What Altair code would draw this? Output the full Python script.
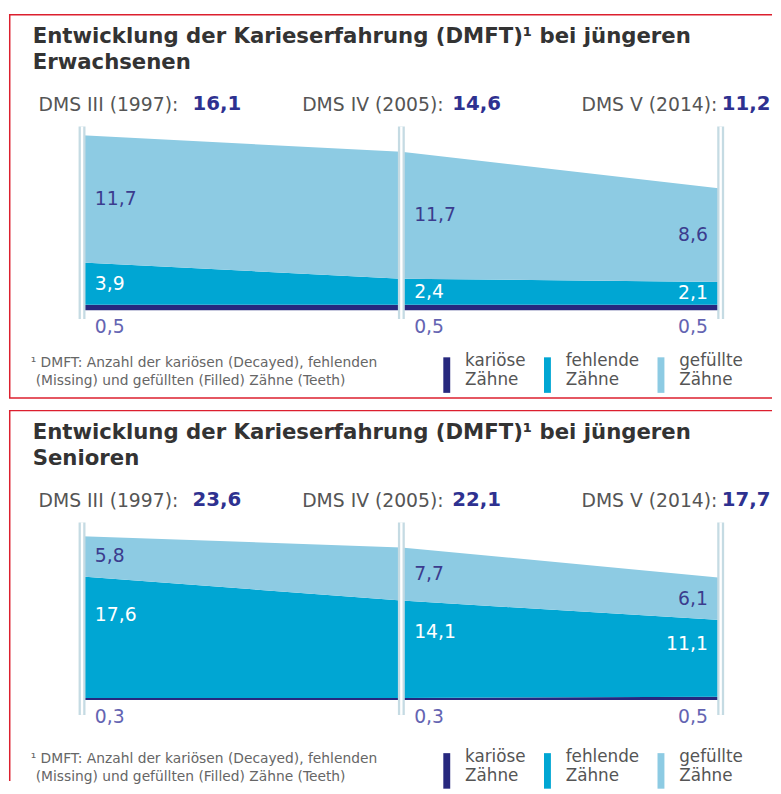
import altair as alt
import pandas as pd

# ---------------- data ----------------
years = [1997, 2005, 2014]
studies = ["DMS III (1997):", "DMS IV (2005):", "DMS V (2014):"]
categories = ["kariöse Zähne", "fehlende Zähne", "gefüllte Zähne"]
colors = ["#27287e", "#00a6d3", "#8dcbe3"]

adult_title = ["Entwicklung der Karieserfahrung (DMFT)¹ bei jüngeren", "Erwachsenen"]
adult_decayed = [0.5, 0.5, 0.5]
adult_missing = [3.9, 2.4, 2.1]
adult_filled = [11.7, 11.7, 8.6]
adult_total = [16.1, 14.6, 11.2]

senior_title = ["Entwicklung der Karieserfahrung (DMFT)¹ bei jüngeren", "Senioren"]
senior_decayed = [0.3, 0.3, 0.5]
senior_missing = [17.6, 14.1, 11.1]
senior_filled = [5.8, 7.7, 6.1]
senior_total = [23.6, 22.1, 17.7]

footnote = ["¹ DMFT: Anzahl der kariösen (Decayed), fehlenden",
            "(Missing) und gefüllten (Filled) Zähne (Teeth)"]

# ---------------- styling ----------------
FONT = "DejaVu Sans"
W = 773
RED = "#dc1f2e"
NAVY_TXT = "#3b3c8e"
PURPLE_TXT = "#6464b2"
GREY_TXT = "#555555"


def fmt(v):
    return f"{v:.1f}".replace(".", ",")


def panel(title, dec, mis, fil, tot, H, base_y, k, miss_frac, bottom_border):
    rows = []
    labs = []
    for i, yr in enumerate(years):
        vals = [dec[i], mis[i], fil[i]]
        for o, (cat, v) in enumerate(zip(categories, vals)):
            rows.append(dict(year=yr, cat=cat, value=v, ord=o))
        side = "R" if i == len(years) - 1 else "L"
        labs.append(dict(year=yr, txt=fmt(dec[i]), ypos=0.0, kind="D", side=side))
        labs.append(dict(year=yr, txt=fmt(mis[i]), ypos=dec[i] + mis[i] * miss_frac, kind="M", side=side))
        labs.append(dict(year=yr, txt=fmt(fil[i]), ypos=dec[i] + mis[i] + fil[i] * 0.5, kind="F", side=side))
    df = pd.DataFrame(rows)
    dl = pd.DataFrame(labs)
    dy_years = pd.DataFrame({"year": years})

    xs = alt.X("year:O", scale=alt.Scale(type="point", domain=years, range=[74, 721], padding=0), axis=None)
    ysc = alt.Scale(domain=[0, 10], range=[base_y, base_y - 10 * k], nice=False, zero=False)

    area = alt.Chart(df).mark_area(interpolate="linear", opacity=1).encode(
        x=xs,
        y=alt.Y("value:Q", stack="zero", scale=ysc, axis=None),
        color=alt.Color(
            "cat:N",
            scale=alt.Scale(domain=categories, range=colors),
            legend=alt.Legend(
                orient="none", legendX=435, legendY=343, direction="horizontal",
                title=None, symbolType="M-0.7,-0.8H0.7V6.4H-0.7Z", symbolSize=100,
                symbolStrokeWidth=0, symbolOpacity=1,
                labelExpr="split(datum.label, ' ')",
                labelFont=FONT, labelFontSize=17, labelColor=GREY_TXT,
                labelOffset=10, columnPadding=13, padding=0, labelLimit=200,
            ),
        ),
        order=alt.Order("ord:Q"),
    )

    rule_outer = alt.Chart(dy_years).mark_rule(color="#c5dbe3", strokeWidth=7).encode(
        x=xs, y=alt.value(114), y2=alt.value(309))
    rule_inner = alt.Chart(dy_years).mark_rule(color="white", strokeWidth=2.4).encode(
        x=xs, y=alt.value(114), y2=alt.value(309))

    layers = [area, rule_outer, rule_inner]

    kind_color = {"D": PURPLE_TXT, "M": "white", "F": NAVY_TXT}
    for kind, col in kind_color.items():
        for side, align, dx in [("L", "left", 13), ("R", "right", -13)]:
            t = alt.Chart(dl).transform_filter(
                (alt.datum.kind == kind) & (alt.datum.side == side)
            ).mark_text(
                align=align, baseline="middle", dx=dx, dy=17 if kind == "D" else 0,
                font=FONT, fontSize=19, color=col,
            ).encode(x=xs, y=alt.Y("ypos:Q", scale=ysc, axis=None), text="txt:N")
            layers.append(t)

    # title
    for j, line in enumerate(title):
        layers.append(
            alt.Chart(pd.DataFrame({"t": [line]})).mark_text(
                align="left", baseline="middle", font=FONT, fontSize=21.5, fontWeight="bold", color="#333333"
            ).encode(x=alt.value(24), y=alt.value(23 + 27 * j), text="t:N")
        )

    # headers
    hx_label = [30, 297, 580]
    hx_value = [186, 449, 722]
    for i in range(len(years)):
        layers.append(
            alt.Chart(pd.DataFrame({"t": [studies[i]]})).mark_text(
                align="left", baseline="middle", font=FONT, fontSize=19, color=GREY_TXT
            ).encode(x=alt.value(hx_label[i]), y=alt.value(92), text="t:N")
        )
        layers.append(
            alt.Chart(pd.DataFrame({"t": [fmt(tot[i])]})).mark_text(
                align="left", baseline="middle", font=FONT, fontSize=20, fontWeight="bold", color="#2e3190"
            ).encode(x=alt.value(hx_value[i]), y=alt.value(91), text="t:N")
        )

    # footnote
    for j, line in enumerate(footnote):
        layers.append(
            alt.Chart(pd.DataFrame({"t": [line]})).mark_text(
                align="left", baseline="middle", font=FONT, fontSize=14, color="#666666"
            ).encode(x=alt.value(22 if j == 0 else 27), y=alt.value(354 + 18 * j), text="t:N")
        )

    # red frame
    frame = pd.DataFrame({"a": [0]})
    layers.append(alt.Chart(frame).mark_rule(color=RED, strokeWidth=1.5).encode(
        x=alt.value(0), x2=alt.value(W), y=alt.value(0.75)))
    layers.append(alt.Chart(frame).mark_rule(color=RED, strokeWidth=1.5).encode(
        x=alt.value(0.75), y=alt.value(0), y2=alt.value(bottom_border if bottom_border else H)))
    if bottom_border:
        layers.append(alt.Chart(frame).mark_rule(color=RED, strokeWidth=1.5).encode(
            x=alt.value(0), x2=alt.value(W), y=alt.value(bottom_border)))

    return alt.layer(*layers).properties(width=W, height=H)


p1 = panel(adult_title, adult_decayed, adult_missing, adult_filled, adult_total,
           H=400, base_y=300, k=11.0, miss_frac=0.5, bottom_border=389)
p2 = panel(senior_title, senior_decayed, senior_missing, senior_filled, senior_total,
           H=376, base_y=294, k=7.0, miss_frac=0.68, bottom_border=None)

chart = alt.vconcat(p1, p2, spacing=0).resolve_scale(
    x="independent", y="independent", color="independent"
).properties(padding=0).configure_view(strokeWidth=0)

chart.save("out.html", embed_options={"renderer": "svg", "actions": False})
